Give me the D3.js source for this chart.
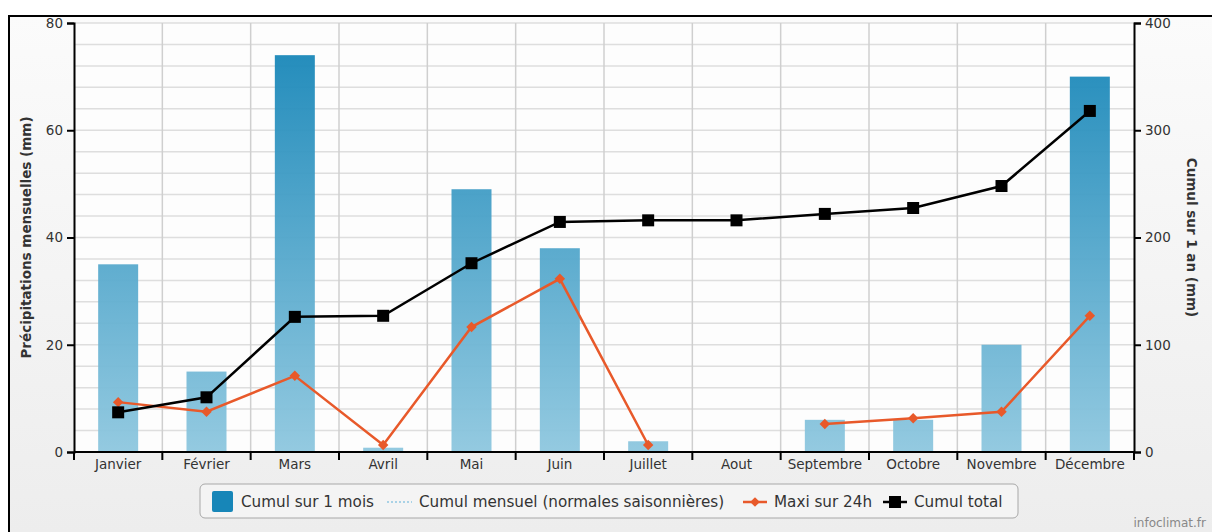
<!DOCTYPE html>
<html>
<head>
<meta charset="utf-8">
<script src="https://cdn.jsdelivr.net/npm/d3@7"></script>
<style>
  body { margin: 0; background: #fff; }
  text { font-family: "DejaVu Sans", sans-serif; fill: #333; }
</style>
</head>
<body>
<div class="chart"></div>
<script>
let months = ["Janvier", "Février", "Mars", "Avril", "Mai", "Juin", "Juillet", "Aout", "Septembre", "Octobre", "Novembre", "Décembre"];
let cumulMois = [35, 15, 74, 0.8, 49, 38, 2, 0, 6, 6, 20, 70];
let maxi24h = [9.3, 7.5, 14.2, 1.3, 23.3, 32.3, 1.3, null, 5.2, 6.3, 7.5, 25.4];
let cumulTotal = [37, 51, 126, 127, 176, 214.5, 216, 216, 222, 227.5, 248, 318];
let leftTicks = [0, 20, 40, 60, 80];
let rightTicks = [0, 100, 200, 300, 400];

let svgWidth = 1212, svgHeight = 532;
let margin = { top: 23, left: 74, right: 78, bottom: 80 };
let width = svgWidth - margin.left - margin.right;
let height = 452 - margin.top;

let svg = d3.select(".chart").append("svg")
    .attr("width", svgWidth)
    .attr("height", svgHeight);

let defs = svg.append("defs");
let bgGrad = defs.append("linearGradient").attr("id", "bg").attr("x1", 0).attr("y1", 0).attr("x2", 0).attr("y2", 1);
bgGrad.append("stop").attr("offset", "0%").attr("stop-color", "#fbfbfb");
bgGrad.append("stop").attr("offset", "100%").attr("stop-color", "#ededed");
let barGrad = defs.append("linearGradient").attr("id", "barGrad")
    .attr("gradientUnits", "userSpaceOnUse")
    .attr("x1", 0).attr("y1", margin.top).attr("x2", 0).attr("y2", margin.top + height);
barGrad.append("stop").attr("offset", "0%").attr("stop-color", "#1786b8");
barGrad.append("stop").attr("offset", "100%").attr("stop-color", "#95cbe1");

// background and frame
svg.append("rect").attr("x", 9).attr("y", 16).attr("width", svgWidth - 9).attr("height", svgHeight - 16).attr("fill", "url(#bg)");
svg.append("path").attr("d", `M9,${svgHeight} V16 H${svgWidth}`).attr("fill", "none").attr("stroke", "#000").attr("stroke-width", 2);

let chartgroup = svg.append("g").attr("transform", `translate(${margin.left}, ${margin.top})`);
chartgroup.append("rect").attr("width", width).attr("height", height).attr("fill", "#fdfdfd");

let xScale = d3.scaleBand().domain(months).range([0, width]);
let yLeft = d3.scaleLinear().domain([0, 80]).range([height, 0]);
let yRight = d3.scaleLinear().domain([0, 400]).range([height, 0]);

// horizontal grid every 4 mm
chartgroup.append("g").selectAll("line")
    .data(d3.range(4, 81, 4))
    .enter().append("line")
    .attr("x1", 0).attr("x2", width)
    .attr("y1", d => yLeft(d)).attr("y2", d => yLeft(d))
    .attr("stroke", "#dedede").attr("stroke-width", 1.5);
// vertical grid at month boundaries
chartgroup.append("g").selectAll("line")
    .data(months.slice(1))
    .enter().append("line")
    .attr("x1", d => xScale(d)).attr("x2", d => xScale(d))
    .attr("y1", 0).attr("y2", height)
    .attr("stroke", "#cfcfcf").attr("stroke-width", 1.5);

// bars
let barW = 40;
chartgroup.append("g").selectAll("rect")
    .data(cumulMois)
    .enter().append("rect")
    .attr("x", (d, i) => xScale(months[i]) + xScale.bandwidth() / 2 - barW / 2)
    .attr("y", d => yLeft(d))
    .attr("width", barW)
    .attr("height", d => height - yLeft(d))
    .attr("fill", "url(#barGrad)")
    .attr("opacity", 0.95);

let cx = i => xScale(months[i]) + xScale.bandwidth() / 2;

// maxi sur 24h
let maxiData = maxi24h.map((v, i) => ({ i: i, v: v }));
chartgroup.append("path")
    .datum(maxiData)
    .attr("fill", "none").attr("stroke", "#e8592a").attr("stroke-width", 2.5)
    .attr("d", d3.line().defined(d => d.v !== null).x(d => cx(d.i)).y(d => yLeft(d.v)));
chartgroup.append("g").selectAll("path")
    .data(maxiData.filter(d => d.v !== null))
    .enter().append("path")
    .attr("d", d3.symbol(d3.symbolDiamond2, 70))
    .attr("transform", d => `translate(${cx(d.i)}, ${yLeft(d.v)})`)
    .attr("fill", "#e8592a");

// cumul total
chartgroup.append("path")
    .datum(cumulTotal)
    .attr("fill", "none").attr("stroke", "#000").attr("stroke-width", 2.5)
    .attr("d", d3.line().x((d, i) => cx(i)).y(d => yRight(d)));
chartgroup.append("g").selectAll("rect")
    .data(cumulTotal)
    .enter().append("rect")
    .attr("x", (d, i) => cx(i) - 6).attr("y", d => yRight(d) - 6)
    .attr("width", 12).attr("height", 12)
    .attr("fill", "#000");

// axes
let leftAxis = chartgroup.append("g")
    .call(d3.axisLeft(yLeft).tickValues(leftTicks).tickSize(7).tickPadding(4));
let rightAxis = chartgroup.append("g")
    .attr("transform", `translate(${width}, 0)`)
    .call(d3.axisRight(yRight).tickValues(rightTicks).tickSize(7).tickPadding(4));
let xAxis = chartgroup.append("g")
    .attr("transform", `translate(0, ${height})`)
    .call(d3.axisBottom(xScale).tickSize(0).tickPadding(7));
xAxis.selectAll(".tick")
    .append("line")
    .attr("x1", -xScale.bandwidth() / 2).attr("x2", -xScale.bandwidth() / 2)
    .attr("y1", 0).attr("y2", 8).attr("stroke", "#000").attr("stroke-width", 2);
xAxis.append("line").attr("x1", width).attr("x2", width).attr("y1", 0).attr("y2", 8).attr("stroke", "#000").attr("stroke-width", 2);
[leftAxis, rightAxis, xAxis].forEach(a => {
    a.select(".domain").attr("stroke", "#000").attr("stroke-width", 2);
    a.selectAll(".tick line").attr("stroke", "#000").attr("stroke-width", 2);
    a.selectAll("text").style("font-size", "13.5px").attr("fill", "#333");
});
xAxis.select(".domain").attr("d", `M0,0H${width}`);

// axis titles
svg.append("text")
    .attr("transform", `translate(31, ${margin.top + height / 2}) rotate(-90)`)
    .attr("text-anchor", "middle")
    .style("font-size", "13.5px").style("font-weight", "bold")
    .text("Précipitations mensuelles (mm)");
svg.append("text")
    .attr("transform", `translate(1187, ${margin.top + height / 2}) rotate(90)`)
    .attr("text-anchor", "middle")
    .style("font-size", "13.5px").style("font-weight", "bold")
    .text("Cumul sur 1 an (mm)");

// legend
let legend = svg.append("g");
legend.append("rect")
    .attr("x", 200).attr("y", 484).attr("width", 818).attr("height", 34)
    .attr("rx", 5).attr("fill", "#f4f4f4").attr("stroke", "#a8a8a8");
legend.append("rect").attr("x", 212).attr("y", 491).attr("width", 21).attr("height", 21).attr("rx", 2).attr("fill", "#1786b8");
legend.append("text").attr("x", 241).attr("y", 507).style("font-size", "15.2px").text("Cumul sur 1 mois");
legend.append("line").attr("x1", 387).attr("x2", 412).attr("y1", 502).attr("y2", 502)
    .attr("stroke", "#a9d2e6").attr("stroke-width", 2).attr("stroke-dasharray", "2,2");
legend.append("text").attr("x", 419).attr("y", 507).style("font-size", "15.2px").text("Cumul mensuel (normales saisonnières)");
legend.append("line").attr("x1", 743).attr("x2", 767).attr("y1", 502).attr("y2", 502).attr("stroke", "#e8592a").attr("stroke-width", 2.5);
legend.append("path").attr("d", d3.symbol(d3.symbolDiamond2, 60)).attr("transform", "translate(755, 502)").attr("fill", "#e8592a");
legend.append("text").attr("x", 774).attr("y", 507).style("font-size", "15.2px").text("Maxi sur 24h");
legend.append("line").attr("x1", 883).attr("x2", 907).attr("y1", 502).attr("y2", 502).attr("stroke", "#000").attr("stroke-width", 2.5);
legend.append("rect").attr("x", 889).attr("y", 496).attr("width", 12).attr("height", 12).attr("fill", "#000");
legend.append("text").attr("x", 914).attr("y", 507).style("font-size", "15.2px").text("Cumul total");

svg.append("text").attr("x", 1206).attr("y", 527).attr("text-anchor", "end")
    .style("font-size", "12px").style("fill", "#888").text("infoclimat.fr");
</script>
</body>
</html>
